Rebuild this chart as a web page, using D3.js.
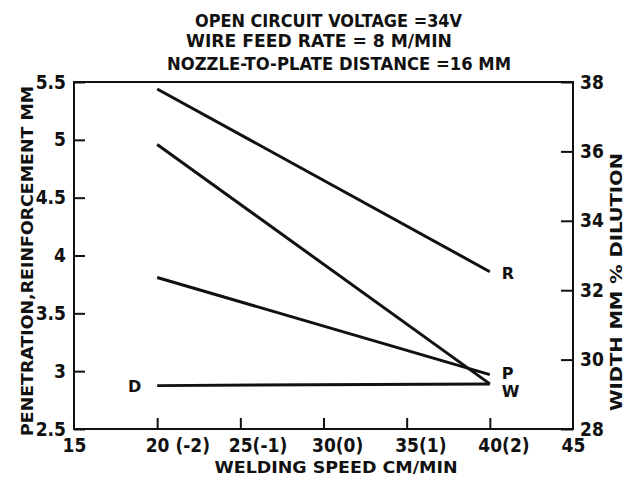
<!DOCTYPE html>
<html lang="en">
<head>
<meta charset="UTF-8">
<title>Welding speed vs bead geometry</title>
<script src="https://d3js.org/d3.v7.min.js"></script>
<style>
    body { margin: 0; background: #fff; }
    svg text { font-family: "DejaVu Sans", sans-serif; font-weight: bold; fill: #111; }
    .tick text { font-family: "DejaVu Sans Condensed", "DejaVu Sans", sans-serif; font-size: 19px; }
    .tick line { stroke: #111; stroke-width: 2; }
    .title { font-size: 17px; }
    .axis-title { font-size: 16px; }
    .series-label { font-size: 16px; }
    .frame { fill: none; stroke: #111; stroke-width: 2; }
    .series { fill: none; stroke: #111; stroke-width: 3; }
</style>
</head>
<body>
<svg width="630" height="482"></svg>
<script>
    // data
    const speeds = [20, 40];
    const xTicks = [15, 20, 25, 30, 35, 40, 45];
    const xTickLabels = ["15", "20 (-2)", "25(-1)", "30(0)", "35(1)", "40(2)", "45"];
    const leftTicks = [2.5, 3, 3.5, 4, 4.5, 5, 5.5];
    const rightTicks = [28, 30, 32, 34, 36, 38];
    const reinforcement = [5.44, 3.86];   // R, left axis
    const penetration = [3.81, 2.97];     // P, left axis
    const beadWidth = [36.2, 29.3];       // W, right axis
    const dilution = [29.25, 29.3];       // D, right axis
    const titleLines = ["OPEN CIRCUIT  VOLTAGE =34V", "WIRE  FEED  RATE = 8 M/MIN", "NOZZLE-TO-PLATE  DISTANCE =16 MM"];

    const W = 630, H = 482;
    const m = {top: 82, right: 57, bottom: 53, left: 74};

    const svg = d3.select("svg");

    const x = d3.scaleLinear().domain([15, 45]).range([m.left, W - m.right]);
    const yL = d3.scaleLinear().domain([2.5, 5.5]).range([H - m.bottom, m.top]);
    const yR = d3.scaleLinear().domain([28, 38]).range([H - m.bottom, m.top]);

    // frame
    svg.append("rect")
        .attr("class", "frame")
        .attr("x", m.left)
        .attr("y", m.top)
        .attr("width", W - m.left - m.right)
        .attr("height", H - m.top - m.bottom);

    // axes, ticks point inward
    const gL = svg.append("g")
        .attr("transform", `translate(${m.left},0)`)
        .call(d3.axisLeft(yL).tickValues(leftTicks).tickSize(-11).tickPadding(8).tickFormat(d => String(d)));
    gL.select(".domain").remove();

    const gR = svg.append("g")
        .attr("transform", `translate(${W - m.right},0)`)
        .call(d3.axisRight(yR).tickValues(rightTicks).tickSize(-12).tickPadding(7).tickFormat(d => String(d)));
    gR.select(".domain").remove();

    const gB = svg.append("g")
        .attr("transform", `translate(0,${H - m.bottom})`)
        .call(d3.axisBottom(x).tickValues(xTicks).tickSize(-11).tickPadding(10).tickFormat((d, i) => xTickLabels[i]));
    gB.select(".domain").remove();
    // number part sits centred on the tick, the coded level hangs to the right
    gB.selectAll(".tick text").attr("text-anchor", "start").attr("x", -12);
    gB.selectAll(".tick").filter(d => d === 15 || d === 45).select("line").remove();

    // series
    const series = [
        {name: "R", values: reinforcement, y: yL},
        {name: "P", values: penetration, y: yL},
        {name: "W", values: beadWidth, y: yR},
        {name: "D", values: dilution, y: yR}
    ];
    const labelPos = {R: {side: "end", dy: 2}, P: {side: "end", dy: -1}, W: {side: "end", dy: 7}, D: {side: "start", dy: 1}};

    series.forEach(s => {
        const line = d3.line().x((d, i) => x(speeds[i])).y(d => s.y(d));
        svg.append("path")
            .attr("class", "series")
            .attr("d", line(s.values));

        const p = labelPos[s.name];
        const idx = p.side === "end" ? 1 : 0;
        svg.append("text")
            .attr("class", "series-label")
            .attr("x", p.side === "end" ? x(speeds[idx]) + 12 : x(speeds[idx]) - 16)
            .attr("y", s.y(s.values[idx]) + p.dy)
            .attr("dy", "0.36em")
            .attr("text-anchor", p.side === "end" ? "start" : "end")
            .text(s.name);
    });

    // titles
    const titlePos = [{x: 195, y: 27, len: 267}, {x: 186, y: 47, len: 266}, {x: 167, y: 70, len: 344}];
    svg.selectAll(".title")
        .data(titleLines)
        .enter().append("text")
        .attr("class", "title")
        .attr("x", (d, i) => titlePos[i].x)
        .attr("y", (d, i) => titlePos[i].y)
        .attr("textLength", (d, i) => titlePos[i].len)
        .attr("lengthAdjust", "spacingAndGlyphs")
        .text(d => d);

    svg.append("text")
        .attr("class", "axis-title")
        .attr("x", 336)
        .attr("y", 473)
        .attr("text-anchor", "middle")
        .attr("textLength", 243)
        .attr("lengthAdjust", "spacingAndGlyphs")
        .text("WELDING SPEED CM/MIN");

    svg.append("text")
        .attr("class", "axis-title")
        .attr("transform", "translate(33,261) rotate(-90)")
        .attr("text-anchor", "middle")
        .attr("textLength", 350)
        .attr("lengthAdjust", "spacingAndGlyphs")
        .text("PENETRATION,REINFORCEMENT MM");

    svg.append("text")
        .attr("class", "axis-title")
        .attr("transform", "translate(622,282) rotate(-90)")
        .attr("text-anchor", "middle")
        .attr("textLength", 258)
        .attr("lengthAdjust", "spacingAndGlyphs")
        .text("WIDTH  MM  %  DILUTION");
</script>
</body>
</html>
